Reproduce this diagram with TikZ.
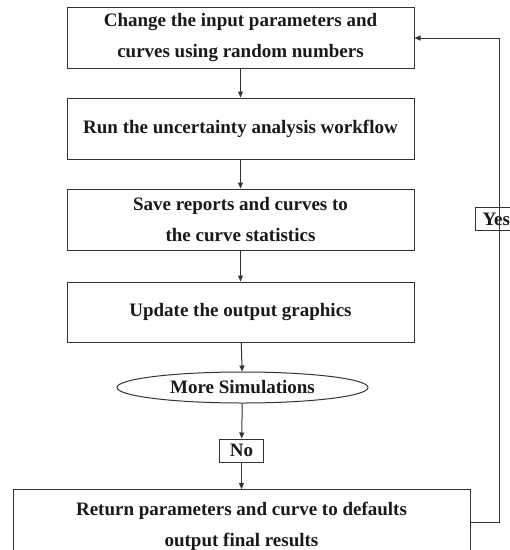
\documentclass[tikz,border=0pt]{standalone}
\usepackage{fontspec}
\setmainfont{Liberation Serif}
\usetikzlibrary{shapes.geometric,arrows.meta}
\begin{document}
\begin{tikzpicture}[x=1pt,y=-1pt,
  every node/.style={font=\fontsize{19}{31}\selectfont\bfseries, text=black!90},
  stepbox/.style={draw=black!80, line width=1pt, minimum width=347pt, minimum height=61pt, inner sep=0pt, align=center},
  tag/.style={draw=black!80, line width=1pt, inner sep=0pt, minimum height=23pt},
  conn/.style={draw=black!80, line width=1pt, -{Triangle[length=6pt,width=5pt]}}]
\useasboundingbox (0,0) rectangle (510,550);
\clip (0,0) rectangle (510,550);
\node[stepbox] (b1) at (240.5,37.5) {Change the input parameters and\\curves using random numbers};
\node[stepbox] (b2) at (240.5,128.5) {Run the uncertainty analysis workflow};
\node[stepbox] (b3) at (240.5,219.5) {Save reports and curves to\\the curve statistics};
\node[stepbox, minimum height=60pt] (b4) at (240.5,312) {Update the output graphics};
\node[ellipse, draw=black!80, line width=1pt, minimum width=251pt, minimum height=31pt, inner sep=0pt] (e) at (242.5,387.5) {More Simulations};
\node[tag, minimum width=44pt] (no) at (241.5,450.5) {No};
\node[stepbox, minimum width=457pt, minimum height=74pt, anchor=north] (b5) at (241.5,489) {Return parameters and curve to defaults\\output final results};
\node[tag, minimum width=46pt, anchor=west, text width=32pt, align=left, inner xsep=3pt] (yes) at (475,219) {Yes};
\coordinate (r1) at (499,522);
\coordinate (r2) at (499,38);
\draw[conn] (b1) -- (b2);
\draw[conn] (b2) -- (b3);
\draw[conn] (b3) -- (b4);
\draw[conn] (b4) -- (e);
\draw[conn] (e) -- (no);
\draw[conn] (no) -- (b5);
\draw[conn] (b5.east |- r1) -- (r1) -- (r2) -- (b1.east |- r2);
\end{tikzpicture}
\end{document}
